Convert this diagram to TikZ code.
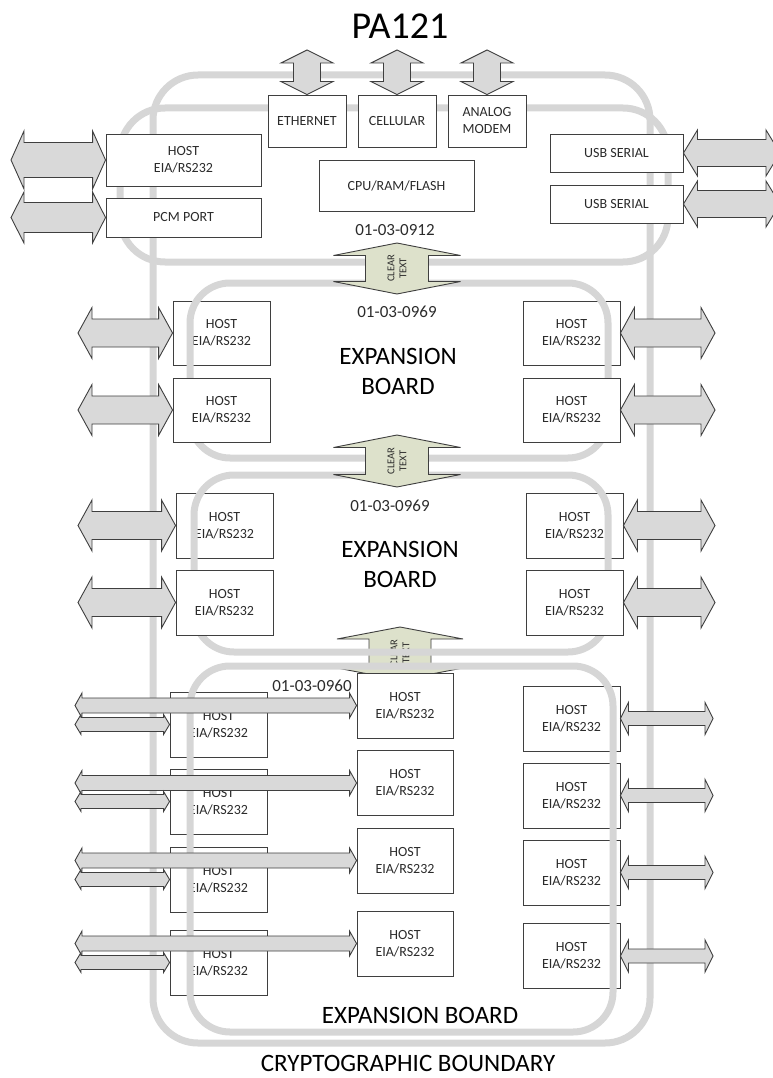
\documentclass[tikz,border=0pt]{standalone}
\usepackage{fontspec}
\setmainfont{Carlito}
\usepackage{tikz}
\usetikzlibrary{calc}
\definecolor{boardgray}{HTML}{D6D6D6}
\definecolor{portgray}{HTML}{D9D9D9}
\definecolor{edgegray}{HTML}{3F3F3F}
\definecolor{clearfill}{HTML}{DDE1CB}
\definecolor{inkgray}{HTML}{2B2B2B}
\tikzset{board/.style={draw=boardgray, line width=7pt, rounded corners=40pt},
  hostbox/.style={draw=edgegray, fill=white, line width=0.9pt, inner sep=0pt, align=center, text=inkgray, font=\fontsize{14}{17}\selectfont},
  port/.style={draw=edgegray, fill=portgray, line width=0.9pt},
  cleartext/.style={draw=edgegray, fill=clearfill, line width=0.9pt},
  clearlabel/.style={rotate=90, align=center, inner sep=0pt, text=inkgray, font=\fontsize{10.5}{12}\selectfont},
  partno/.style={inner sep=0pt, text=inkgray, font=\fontsize{17}{20}\selectfont},
  boardname/.style={inner sep=0pt, align=center, text=black, font=\fontsize{25}{30}\selectfont}}
% block arrow with two heads: style, left end, right end, half shaft, half head, head length
\newcommand\hportarrow[6][port]{%
  \draw[#1] let \p1=(#2), \p2=(#3) in
    (\x1,\y1) -- (\x1+#6,\y1+#5) -- (\x1+#6,\y1+#4) -- (\x2-#6,\y1+#4) -- (\x2-#6,\y1+#5) -- (\x2,\y1)
    -- (\x2-#6,\y1-#5) -- (\x2-#6,\y1-#4) -- (\x1+#6,\y1-#4) -- (\x1+#6,\y1-#5) -- cycle;}
% same, standing: style, upper end, lower end, half shaft, half head, head length
\newcommand\vportarrow[6][port]{%
  \draw[#1] let \p1=(#2), \p2=(#3) in
    (\x1,\y1) -- (\x1+#5,\y1-#6) -- (\x1+#4,\y1-#6) -- (\x1+#4,\y2+#6) -- (\x1+#5,\y2+#6) -- (\x1,\y2)
    -- (\x1-#5,\y2+#6) -- (\x1-#4,\y2+#6) -- (\x1-#4,\y1-#6) -- (\x1-#5,\y1-#6) -- cycle;}

\begin{document}
\begin{tikzpicture}[x=1pt,y=-1pt]
  \useasboundingbox (0,0) rectangle (772,1078);
  \node[inner sep=0pt, font=\fontsize{38}{40}\selectfont, text=black] (title) at (400,26) {PA121};

  % cryptographic boundary and main board
  \draw[board, rounded corners=45pt] (153,75) rectangle (650,1043);
  \draw[board, rounded corners=45pt] (120,108) rectangle (668,262);
  \node[boardname] (crypto) at (408,1063) {CRYPTOGRAPHIC BOUNDARY};

  % clear text between board 2 and board 3 (lies under the outlines)
  \coordinate (ct3a) at (400,627);
  \coordinate (ct3b) at (400,680);
  \vportarrow[cleartext]{ct3a}{ct3b}{31}{63}{12}
  \node[clearlabel] (ct3) at (400,653) {CLEAR\\TEXT};

  % expansion boards 01-03-0969
  \begin{scope}
    \node[hostbox, minimum width=97, minimum height=64] (e1l1) at (221.5,333) {HOST\\EIA/RS232};
    \node[hostbox, minimum width=97, minimum height=64] (e1r1) at (571.5,333) {HOST\\EIA/RS232};
    \node[hostbox, minimum width=97, minimum height=65] (e2l1) at (224.5,525.5) {HOST\\EIA/RS232};
    \node[hostbox, minimum width=97, minimum height=65] (e2r1) at (574.5,525.5) {HOST\\EIA/RS232};
    \draw[board] (190,283) rectangle (608,458);
    \draw[board] (194,475) rectangle (608,652);
    \node[hostbox, minimum width=97, minimum height=64] (e1l2) at (221.5,410) {HOST\\EIA/RS232};
    \node[hostbox, minimum width=97, minimum height=64] (e1r2) at (571.5,410) {HOST\\EIA/RS232};
    \node[hostbox, minimum width=97, minimum height=65] (e2l2) at (224.5,602.5) {HOST\\EIA/RS232};
    \node[hostbox, minimum width=97, minimum height=65] (e2r2) at (574.5,602.5) {HOST\\EIA/RS232};
    \node[partno] (pn1) at (397,312) {01-03-0969};
    \node[boardname] (name1) at (398,371) {EXPANSION\\BOARD};
    \node[partno] (pn2) at (390,506) {01-03-0969};
    \node[boardname] (name2) at (400,564.5) {EXPANSION\\BOARD};
    \coordinate (lmexp) at (78,0);
    \coordinate (rmexp) at (715,0);
    \foreach \b in {e1,e2} {
      \foreach \r in {1,2} {
        \hportarrow{lmexp |- \b l\r.west}{\b l\r.west}{14}{25.5}{14}
        \hportarrow{\b r\r.east}{rmexp |- \b r\r.east}{14}{25.5}{14}
      }
    }
  \end{scope}

  % clear text links
  \coordinate (ct1a) at (397,243);
  \coordinate (ct1b) at (397,294);
  \vportarrow[cleartext]{ct1a}{ct1b}{31.5}{63.5}{12.5}
  \node[clearlabel] (ct1) at ($(ct1a)!0.5!(ct1b)$) {CLEAR\\TEXT};
  \coordinate (ct2a) at (397,435);
  \coordinate (ct2b) at (397,487);
  \vportarrow[cleartext]{ct2a}{ct2b}{31.5}{63.5}{12.5}
  \node[clearlabel] (ct2) at ($(ct2a)!0.5!(ct2b)$) {CLEAR\\TEXT};

  % main board 01-03-0912
  \begin{scope}
    \node[hostbox, minimum width=155, minimum height=52] (host) at (183.5,160) {HOST\\EIA/RS232};
    \node[hostbox, minimum width=155, minimum height=39] (pcm) at (183.5,217.5) {PCM PORT};
    \node[hostbox, minimum width=78, minimum height=52] (eth) at (307,121) {ETHERNET};
    \node[hostbox, minimum width=78, minimum height=52] (cell) at (397,121) {CELLULAR};
    \node[hostbox, minimum width=78, minimum height=52] (modem) at (487,121) {ANALOG\\MODEM};
    \node[hostbox, minimum width=155, minimum height=51] (cpu) at (396.5,185.5) {CPU/RAM/FLASH};
    \node[hostbox, minimum width=133, minimum height=38] (usb1) at (616.5,153) {USB SERIAL};
    \node[hostbox, minimum width=133, minimum height=38] (usb2) at (616.5,204) {USB SERIAL};
    \node[partno] (pn0) at (395,230) {01-03-0912};
    \coordinate (topend) at (0,50);
    \coordinate (lmtop) at (11,0);
    \coordinate (rmtop) at (780,0);
    \foreach \u in {eth,cell,modem} {
      \vportarrow{\u.north |- topend}{\u.north}{13.5}{26}{13}
    }
    \hportarrow{lmtop |- host.west}{host.west}{17.5}{29}{13}
    \hportarrow{lmtop |- pcm.west}{pcm.west}{15}{25.5}{13}
    \hportarrow{usb1.east}{rmtop |- usb1.east}{13.5}{23}{14}
    \hportarrow{usb2.east}{rmtop |- usb2.east}{13.5}{23}{14}
  \end{scope}

  % expansion board 01-03-0960
  \begin{scope}
    \foreach \i/\ym/\yl/\yr in {1/705.5/724.5/718.5, 2/783/801.5/795.5, 3/860.5/879.5/872.5, 4/943.5/962.5/956} {
      \node[hostbox, minimum width=96, minimum height=65] (e3m\i) at (405,\ym) {HOST\\EIA/RS232};
      \node[hostbox, minimum width=97, minimum height=65] (e3l\i) at (218.5,\yl) {HOST\\EIA/RS232};
      \node[hostbox, minimum width=97, minimum height=65] (e3r\i) at (571.5,\yr) {HOST\\EIA/RS232};
    }
    \draw[board] (190,666) rectangle (613,1032);
    \node[partno] (pn3) at (312,686) {01-03-0960};
    \node[boardname] (name3) at (420,1015) {EXPANSION BOARD};
    \coordinate (lmfan) at (75,0);
    \coordinate (rmfan) at (713,0);
    \foreach \i in {1,...,4} {
      \hportarrow{lmfan |- e3m\i.west}{e3m\i.west}{7.5}{12.5}{7}
      \hportarrow{lmfan |- e3l\i.west}{e3l\i.west}{7}{10}{6}
      \hportarrow{e3r\i.east}{rmfan |- e3r\i.east}{7}{16}{8}
    }
  \end{scope}
\end{tikzpicture}
\end{document}
